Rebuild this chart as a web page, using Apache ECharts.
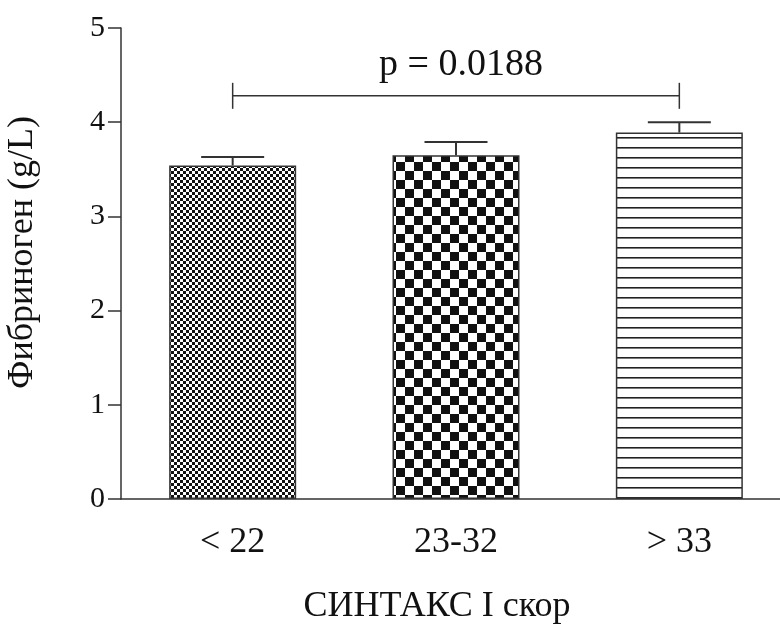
<!DOCTYPE html>
<html>
<head>
<meta charset="utf-8">
<script src="https://cdn.jsdelivr.net/npm/echarts@6/dist/echarts.min.js"></script>
<style>
html,body{margin:0;padding:0;background:#fff;}
#main{width:780px;height:628px;}
</style>
</head>
<body>
<div id="main"></div>
<script>
//数据
var categories = ['< 22', '23-32', '> 33'];
var means = [3.54, 3.65, 3.89];
var upper = [3.63, 3.79, 4.0];
var yTicks = [0, 1, 2, 3, 4, 5];
var bracket = [0, 2, 4.28];
var pText = 'p = 0.0188';

var font = 'Liberation Serif';

//填充图案
function makePattern(kind){
	var c = document.createElement('canvas'), ctx;
	if(kind == 'fine'){ c.width = 6; c.height = 6; }
	if(kind == 'coarse'){ c.width = 18; c.height = 18; }
	if(kind == 'lines'){ c.width = 10; c.height = 10; }
	ctx = c.getContext('2d');
	ctx.fillStyle = '#fff';
	ctx.fillRect(0, 0, c.width, c.height);
	ctx.fillStyle = '#111';
	if(kind == 'fine'){ ctx.fillRect(0, 0, 3, 3); ctx.fillRect(3, 3, 3, 3); }
	if(kind == 'coarse'){ ctx.fillRect(0, 0, 9, 9); ctx.fillRect(9, 9, 9, 9); }
	if(kind == 'lines'){ ctx.fillStyle = '#222'; ctx.fillRect(0, 7, 10, 1.6); }
	return {image: c, repeat: 'repeat'};
}
var patterns = [makePattern('fine'), makePattern('coarse'), makePattern('lines')];

var myChart = echarts.init(document.getElementById('main'));

var option = {
	animation: false,
	backgroundColor: '#fff',
	grid: {left: 121, right: -11, top: 28, bottom: 129, containLabel: false, outerBoundsMode: 'none'},
	xAxis: {
		type: 'category',
		data: categories,
		name: 'СИНТАКС I скор',
		nameLocation: 'middle',
		nameGap: 90,
		nameTextStyle: {fontFamily: font, fontSize: 36, color: '#111', padding: [0, 38, 0, 0]},
		axisLine: {lineStyle: {color: '#333', width: 1.5}},
		axisTick: {alignWithLabel: true, length: 14, lineStyle: {color: '#333', width: 1.5}},
		axisLabel: {fontFamily: font, fontSize: 36, color: '#111', margin: 26}
	},
	yAxis: {
		type: 'value',
		min: yTicks[0],
		max: yTicks[yTicks.length - 1],
		interval: 1,
		name: 'Фибриноген (g/L)',
		nameLocation: 'middle',
		nameGap: 80,
		nameTextStyle: {fontFamily: font, fontSize: 36, color: '#111', padding: [0, 0, 0, 22]},
		axisLine: {show: true, lineStyle: {color: '#333', width: 1.5}},
		axisTick: {show: true, length: 13, lineStyle: {color: '#333', width: 1.5}},
		axisLabel: {fontFamily: font, fontSize: 30, color: '#111', margin: 16},
		splitLine: {show: false}
	},
	series: [
		{
			type: 'bar',
			barWidth: 127,
			data: means.map(function(v, i){
				return {value: v, itemStyle: {color: patterns[i]}};
			}),
			itemStyle: {borderColor: '#333', borderWidth: 1.5}
		},
		{
			//误差线
			type: 'custom',
			data: means.map(function(v, i){ return [i, upper[i], v]; }),
			encode: {x: 0, y: 1},
			z: 5,
			renderItem: function(params, api){
				var hi = api.coord([api.value(0), api.value(1)]);
				var lo = api.coord([api.value(0), api.value(2)]);
				var half = 31.5;
				var st = {stroke: '#333', lineWidth: 2};
				return {
					type: 'group',
					children: [
						{type: 'line', shape: {x1: lo[0], y1: lo[1], x2: hi[0], y2: hi[1]}, style: st},
						{type: 'line', shape: {x1: hi[0] - half, y1: hi[1], x2: hi[0] + half, y2: hi[1]}, style: st}
					]
				};
			}
		},
		{
			//p值括号
			type: 'custom',
			data: [bracket],
			encode: {x: 0, y: 2},
			z: 5,
			renderItem: function(params, api){
				var a = api.coord([api.value(0), api.value(2)]);
				var b = api.coord([api.value(1), api.value(2)]);
				var st = {stroke: '#333', lineWidth: 1.5};
				return {
					type: 'group',
					children: [
						{type: 'line', shape: {x1: a[0], y1: a[1], x2: b[0], y2: b[1]}, style: st},
						{type: 'line', shape: {x1: a[0], y1: a[1] - 13, x2: a[0], y2: a[1] + 13}, style: st},
						{type: 'line', shape: {x1: b[0], y1: b[1] - 13, x2: b[0], y2: b[1] + 13}, style: st},
						{type: 'text', x: (a[0] + b[0]) / 2 + 5, y: a[1] - 12,
							style: {text: pText, fontFamily: font, fontSize: 38, fill: '#111', align: 'center', verticalAlign: 'bottom'}}
					]
				};
			}
		}
	]
};

myChart.setOption(option);
</script>
</body>
</html>
